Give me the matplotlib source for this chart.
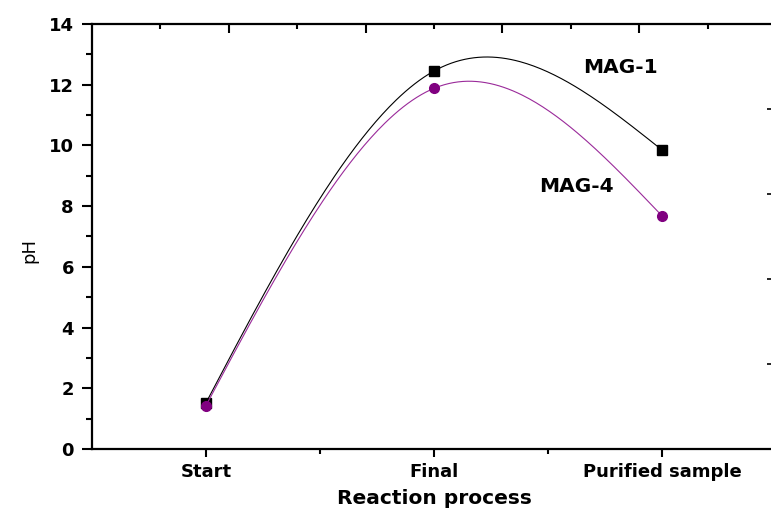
import numpy as np
import matplotlib
matplotlib.use("Agg")
import matplotlib.pyplot as plt

categories = ["Start", "Final", "Purified sample"]
mag1 = [1.52, 12.45, 9.85]
mag4 = [1.43, 11.88, 7.68]
series_names = ["MAG-1", "MAG-4"]

plt.rcParams['font.family'] = ['DejaVu Sans']


def natural_spline(x, y, n=200):
    x = np.asarray(x, float)
    y = np.asarray(y, float)
    k = len(x)
    h = np.diff(x)
    A = np.zeros((k, k))
    r = np.zeros(k)
    A[0, 0] = 1
    A[-1, -1] = 1
    for i in range(1, k - 1):
        A[i, i - 1] = h[i - 1]
        A[i, i] = 2 * (h[i - 1] + h[i])
        A[i, i + 1] = h[i]
        r[i] = 6 * ((y[i + 1] - y[i]) / h[i] - (y[i] - y[i - 1]) / h[i - 1])
    M = np.linalg.solve(A, r)
    xs = np.linspace(x[0], x[-1], n)
    ys = np.empty_like(xs)
    for j, xv in enumerate(xs):
        i = min(np.searchsorted(x, xv, side='right') - 1, k - 2)
        t0 = x[i + 1] - xv
        t1 = xv - x[i]
        hi = h[i]
        ys[j] = (M[i] * t0 ** 3 / (6 * hi) + M[i + 1] * t1 ** 3 / (6 * hi)
                 + (y[i] / hi - M[i] * hi / 6) * t0
                 + (y[i + 1] / hi - M[i + 1] * hi / 6) * t1)
    return xs, ys


fig = plt.figure(figsize=(7.71, 5.19), dpi=100)
ax = fig.add_axes([0.1193, 0.1349, 0.8872, 0.8189])

xpos = np.arange(1, len(categories) + 1)

xs, ys = natural_spline(xpos, mag1)
ax.plot(xs, ys, color='black', lw=0.8)
ax.plot(xpos, mag1, ls='none', marker='s', ms=6.5, color='black')

xs, ys = natural_spline(xpos, mag4)
ax.plot(xs, ys, color='#9a2a9a', lw=0.8)
ax.plot(xpos, mag4, ls='none', marker='o', ms=7, color='#800080')

ax.text(2.654, 12.55, series_names[0], fontsize=14.5, fontweight='bold', va='center', ha='left')
ax.text(2.46, 8.63, series_names[1], fontsize=14.5, fontweight='bold', va='center', ha='left')

ax.set_xlim(0.5, 3.5)
ax.set_ylim(0, 14)
ax.set_xticks(xpos)
ax.set_xticklabels(categories, fontsize=13, fontweight='bold')
ax.set_xticks([1.5, 2.5], minor=True)
ax.set_yticks(np.arange(0, 15, 2))
ax.set_yticklabels([str(v) for v in range(0, 15, 2)], fontsize=13, fontweight='bold')
ax.set_yticks(np.arange(1, 14, 2), minor=True)

ax.tick_params(axis='x', which='major', direction='out', length=6, width=1.5, pad=4, top=False)
ax.tick_params(axis='x', which='minor', direction='out', length=3.5, width=1.5, top=False)
ax.tick_params(axis='y', which='major', direction='out', length=7, width=1.5, pad=6, right=False)
ax.tick_params(axis='y', which='minor', direction='out', length=4, width=1.5, right=False)

for s in ax.spines.values():
    s.set_linewidth(1.6)

ax.set_xlabel("Reaction process", fontsize=14.5, fontweight='bold', labelpad=6)
ax.set_ylabel("pH", fontsize=13)
ax.yaxis.set_label_coords(-0.079, 0.468)

# top axis ticks (inward)
axt = ax.twiny()
axt.set_xlim(ax.get_xlim())
axt.set_xticks([1.1, 1.7, 2.3, 2.9])
axt.set_xticks([0.8, 1.4, 2.0, 2.6, 3.2], minor=True)
axt.tick_params(axis='x', which='major', direction='in', length=6.5, width=1.5, labeltop=False)
axt.tick_params(axis='x', which='minor', direction='in', length=3.5, width=1.5)
for s in axt.spines.values():
    s.set_visible(False)

# right axis ticks (inward)
axr = ax.twinx()
axr.set_ylim(0, 14)
axr.set_yticks([2.8, 5.6, 8.4, 11.2])
axr.tick_params(axis='y', direction='in', length=6.5, width=1.2, labelright=False)
for s in axr.spines.values():
    s.set_visible(False)

fig.savefig("out.png", dpi=100)
